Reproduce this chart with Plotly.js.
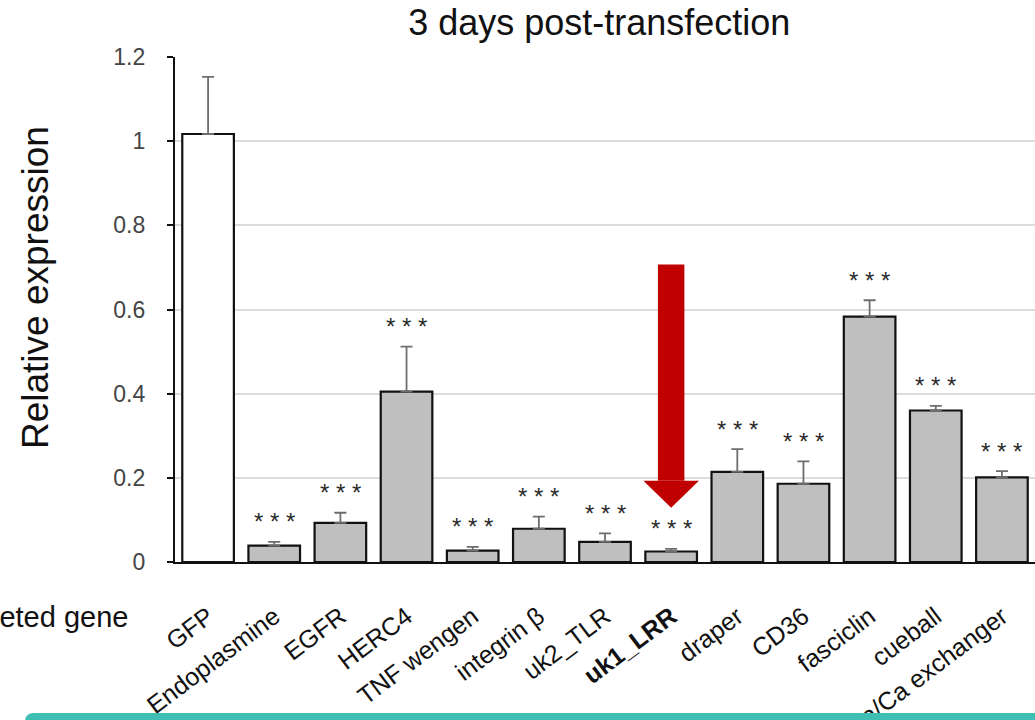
<!DOCTYPE html>
<html>
<head>
<meta charset="utf-8">
<script src="https://cdn.plot.ly/plotly-3.0.1.min.js"></script>
<style>
  html, body { margin: 0; padding: 0; background: #fff; }
  #chart { width: 1035px; height: 720px; }
  #band { position: absolute; left: 25px; top: 713px; width: 1030px; height: 16px; border-radius: 8px; background: #3fbfb4; }
</style>
</head>
<body>
<div id="chart"></div>
<div id="band"></div>
<script>
const genes = ["GFP", "Endoplasmine", "EGFR", "HERC4", "TNF wengen", "integrin \u03b2", "uk2_TLR", "<b>uk1_LRR</b>", "draper", "CD36", "fasciclin", "cueball", "Na/Ca exchanger"];
const expression = [1.017, 0.039, 0.093, 0.405, 0.027, 0.079, 0.048, 0.025, 0.214, 0.186, 0.583, 0.360, 0.201];
const errorUp = [0.136, 0.009, 0.024, 0.107, 0.009, 0.029, 0.020, 0.006, 0.054, 0.053, 0.039, 0.011, 0.015];
const significance = ["", "***", "***", "***", "***", "***", "***", "***", "***", "***", "***", "***", "***"];
const highlightIndex = 7;
const arrowTop = 0.707, arrowHeadBase = 0.193, arrowTip = 0.129;

const FONT = "Liberation Sans, Arial, sans-serif";
const barColors = genes.map((g, i) => i === 0 ? "#ffffff" : "#bfbfbf");

const bars = {
  type: "bar",
  x: genes,
  y: expression,
  marker: { color: barColors, line: { color: "#111111", width: 2.2 } },
  error_y: { type: "data", symmetric: false, array: errorUp, arrayminus: genes.map(() => 0), color: "#6e6e6e", thickness: 1.8, width: 6 },
  width: 0.78,
  hoverinfo: "skip"
};

const annotations = significance.map((s, i) => ({
  x: genes[i], y: expression[i] + errorUp[i], xref: "x", yref: "y",
  text: s ? "* * *" : "", showarrow: false, yshift: 20, yanchor: "middle",
  font: { family: FONT, size: 24, color: "#2b2b2b" }
})).filter(a => a.text);

annotations.push({
  xref: "paper", yref: "paper", x: -0.052, y: -0.109, xanchor: "right", yanchor: "middle",
  text: "Targeted gene", showarrow: false,
  font: { family: FONT, size: 29, color: "#111111" }
});

annotations.push({
  xref: "paper", yref: "paper", x: -0.1616, y: 0.5426, xanchor: "center", yanchor: "middle",
  text: "Relative expression", textangle: -90, showarrow: false,
  font: { family: FONT, size: 37, color: "#111111" }
});

const shapes = [
  { type: "rect", xref: "x", yref: "y", x0: highlightIndex - 0.2, x1: highlightIndex + 0.2, y0: arrowHeadBase, y1: arrowTop, fillcolor: "#c00000", line: { width: 0 } },
  { type: "path", xref: "x", yref: "y",
    path: `M ${highlightIndex - 0.42} ${arrowHeadBase} L ${highlightIndex + 0.42} ${arrowHeadBase} L ${highlightIndex} ${arrowTip} Z`,
    fillcolor: "#c00000", line: { width: 0 } }
];

const layout = {
  width: 1035, height: 720,
  margin: { l: 175, r: 0, t: 57, b: 158 },
  paper_bgcolor: "#ffffff", plot_bgcolor: "#ffffff",
  showlegend: false,
  title: { text: "3 days post-transfection", x: 0.579, xanchor: "center", y: 0.969, yanchor: "middle",
    font: { family: FONT, size: 36, color: "#111111" } },
  xaxis: {
    type: "category", range: [-0.5, 12.5], showline: true, linecolor: "#111111", linewidth: 2.2,
    ticks: "", tickangle: -37, ticklabelstandoff: 28,
    tickfont: { family: FONT, size: 25, color: "#111111" },
    showgrid: false, zeroline: false, fixedrange: true
  },
  yaxis: {
    range: [0, 1.2], tickvals: [0, 0.2, 0.4, 0.6, 0.8, 1, 1.2], ticktext: ["0", "0.2", "0.4", "0.6", "0.8", "1", "1.2"],
    showline: true, linecolor: "#111111", linewidth: 2.2, ticks: "outside", ticklen: 6, tickwidth: 2, tickcolor: "#111111",
    ticklabelstandoff: 17,
    tickfont: { family: FONT, size: 23, color: "#444444" },
    showgrid: true, gridcolor: "#dcdcdc", gridwidth: 2, zeroline: false,
    fixedrange: true
  },
  bargap: 0.22,
  annotations: annotations,
  shapes: shapes
};

Plotly.newPlot("chart", [bars], layout, { displayModeBar: false, staticPlot: true });
</script>
</body>
</html>
